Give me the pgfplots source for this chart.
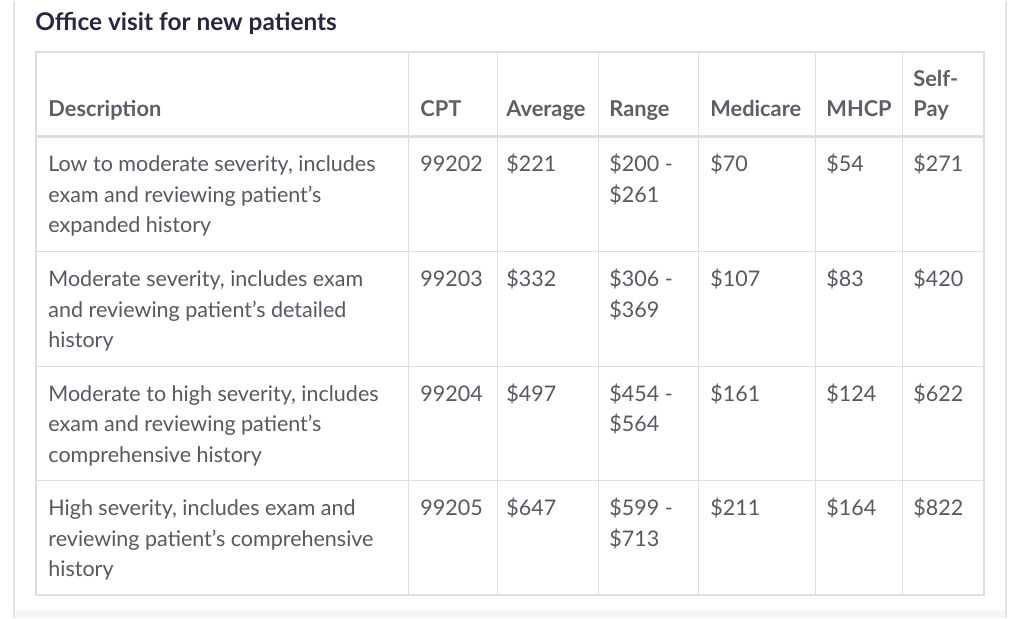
\documentclass[border=0pt]{standalone}
\usepackage{fontspec}
\setmainfont{Lato}
\usepackage{pgfplots}
\pgfplotsset{compat=1.18}
\definecolor{titlec}{HTML}{2A2540}
\definecolor{headc}{HTML}{5E5E68}
\definecolor{bodyc}{HTML}{585862}
\definecolor{gridc}{HTML}{DEDEDE}
\definecolor{cardc}{HTML}{E4E4E4}
\definecolor{stripc}{HTML}{F6F6F6}

\begin{document}
\begin{tikzpicture}[
  cell/.style={anchor=base west, inner sep=0pt, text=bodyc,
               font=\fontsize{10.75pt}{13pt}\selectfont},
  head/.style={cell, text=headc, font=\fontsize{10.9pt}{13pt}\selectfont\bfseries},
]
\begin{axis}[
    scale only axis, width=512pt, height=308.5pt,
    xmin=0, xmax=1024, ymin=0, ymax=617,
    y dir=reverse, hide axis, clip=false,
]
% page + card
\fill[white] (axis cs:0,0) rectangle (axis cs:1024,617);
\fill[stripc] (axis cs:15,609) rectangle (axis cs:1005,617);
\draw[cardc, line width=1pt] (axis cs:14,0) -- (axis cs:14,617);
\draw[cardc, line width=1pt] (axis cs:1005.5,0) -- (axis cs:1005.5,617);

% title
\node[anchor=base west, inner sep=0pt, text=titlec,
      font=\fontsize{12.2pt}{14pt}\selectfont\bfseries]
  at (axis cs:35,30) {Office visit for new patients};

% table grid
\pgfplotsinvokeforeach{408,497,598,698,815,902}{
  \draw[gridc, line width=0.5pt] (axis cs:#1,51) -- (axis cs:#1,594);
}
\pgfplotsinvokeforeach{251,366,480}{
  \draw[gridc, line width=0.5pt] (axis cs:36,#1) -- (axis cs:984,#1);
}
\draw[gridc, line width=1.3pt] (axis cs:36,135.5) -- (axis cs:984,135.5);
\draw[gridc, line width=0.6pt] (axis cs:36,51) rectangle (axis cs:984,594);

% header
\node[head] at (axis cs:48,116) {Description};
\node[head] at (axis cs:420,116) {CPT};
\node[head] at (axis cs:506,116) {Average};
\node[head] at (axis cs:609,116) {Range};
\node[head] at (axis cs:710,116) {Medicare};
\node[head] at (axis cs:826,116) {MHCP};
\node[head] at (axis cs:913,86) {Self-};
\node[head] at (axis cs:913,116) {Pay};

% row 1
\node[cell] at (axis cs:48,171) {Low to moderate severity, includes};
\node[cell] at (axis cs:48,201.5) {exam and reviewing patient’s};
\node[cell] at (axis cs:48,232) {expanded history};
\node[cell] at (axis cs:420,171) {99202};
\node[cell] at (axis cs:506,171) {\$221};
\node[cell] at (axis cs:609,171) {\$200 -};
\node[cell] at (axis cs:609,201.5) {\$261};
\node[cell] at (axis cs:710,171) {\$70};
\node[cell] at (axis cs:826,171) {\$54};
\node[cell] at (axis cs:913,171) {\$271};

% row 2
\node[cell] at (axis cs:48,286) {Moderate severity, includes exam};
\node[cell] at (axis cs:48,316.5) {and reviewing patient’s detailed};
\node[cell] at (axis cs:48,347) {history};
\node[cell] at (axis cs:420,286) {99203};
\node[cell] at (axis cs:506,286) {\$332};
\node[cell] at (axis cs:609,286) {\$306 -};
\node[cell] at (axis cs:609,316.5) {\$369};
\node[cell] at (axis cs:710,286) {\$107};
\node[cell] at (axis cs:826,286) {\$83};
\node[cell] at (axis cs:913,286) {\$420};

% row 3
\node[cell] at (axis cs:48,400.5) {Moderate to high severity, includes};
\node[cell] at (axis cs:48,431) {exam and reviewing patient’s};
\node[cell] at (axis cs:48,461.5) {comprehensive history};
\node[cell] at (axis cs:420,400.5) {99204};
\node[cell] at (axis cs:506,400.5) {\$497};
\node[cell] at (axis cs:609,400.5) {\$454 -};
\node[cell] at (axis cs:609,431) {\$564};
\node[cell] at (axis cs:710,400.5) {\$161};
\node[cell] at (axis cs:826,400.5) {\$124};
\node[cell] at (axis cs:913,400.5) {\$622};

% row 4
\node[cell] at (axis cs:48,515) {High severity, includes exam and};
\node[cell] at (axis cs:48,545.5) {reviewing patient’s comprehensive};
\node[cell] at (axis cs:48,576) {history};
\node[cell] at (axis cs:420,515) {99205};
\node[cell] at (axis cs:506,515) {\$647};
\node[cell] at (axis cs:609,515) {\$599 -};
\node[cell] at (axis cs:609,545.5) {\$713};
\node[cell] at (axis cs:710,515) {\$211};
\node[cell] at (axis cs:826,515) {\$164};
\node[cell] at (axis cs:913,515) {\$822};
\end{axis}
\end{tikzpicture}
\end{document}
